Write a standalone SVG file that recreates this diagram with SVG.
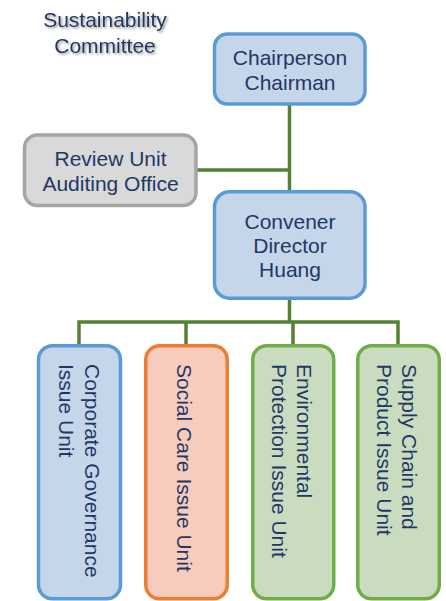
<svg xmlns="http://www.w3.org/2000/svg" width="446" height="601" viewBox="0 0 446 601">
  <defs>
    <filter id="soft-shadow" x="-10%" y="-20%" width="130%" height="150%">
      <feDropShadow dx="1.5" dy="1.5" stdDeviation="0.9" flood-color="#6f6f6f" flood-opacity="0.75"/>
    </filter>
    <style>
      text { font-family: "Liberation Sans", Arial, sans-serif; font-size: 21px; fill: #1f3864; }
      .c { text-anchor: middle; }
      .box { stroke-width: 3.5; }
      .blue { fill: #c5d5ea; stroke: #5b9bd5; }
      .gray { fill: #d9d9d9; stroke: #a5a5a5; }
      .orange { fill: #f7ccbd; stroke: #ed7d31; }
      .green { fill: #c9dcc0; stroke: #70ad47; }
      .link { fill: none; stroke: #548235; stroke-width: 3.5; }
    </style>
  </defs>

  <rect width="446" height="601" fill="#ffffff"/>

  <!-- title -->
  <g id="title" filter="url(#soft-shadow)">
    <text class="c" x="105" y="27">Sustainability</text>
    <text class="c" x="105" y="53">Committee</text>
  </g>

  <!-- connectors -->
  <g id="connectors">
    <path class="link" d="M289.5 104 V192"/>
    <path class="link" d="M196 170 H289.5"/>
    <path class="link" d="M289.5 298 V322"/>
    <path class="link" d="M79 344 V322 H398 V344"/>
    <path class="link" d="M186 322 V344"/>
    <path class="link" d="M293 322 V344"/>
  </g>

  <!-- upper nodes -->
  <g id="chairperson">
    <rect class="box blue" x="214.5" y="34" width="150.5" height="70" rx="13"/>
    <text class="c" x="290" y="65">Chairperson</text>
    <text class="c" x="290" y="89.5">Chairman</text>
  </g>

  <g id="review-unit">
    <rect class="box gray" x="24.5" y="135" width="171.5" height="70.5" rx="13"/>
    <text class="c" x="110.5" y="165.5">Review Unit</text>
    <text class="c" x="110.5" y="190.5">Auditing Office</text>
  </g>

  <g id="convener">
    <rect class="box blue" x="214.5" y="191.75" width="150.5" height="106.5" rx="15"/>
    <text class="c" x="290" y="228.5">Convener</text>
    <text class="c" x="290" y="253">Director</text>
    <text class="c" x="290" y="277">Huang</text>
  </g>

  <!-- issue units (vertical text) -->
  <g id="corporate-governance">
    <rect class="box blue" x="38.5" y="345.75" width="82" height="253" rx="14"/>
    <text transform="translate(85,364) rotate(90)">Corporate Governance</text>
    <text transform="translate(59,364) rotate(90)">Issue Unit</text>
  </g>

  <g id="social-care">
    <rect class="box orange" x="145.75" y="345.75" width="81.5" height="253" rx="14"/>
    <text transform="translate(177,364) rotate(90)">Social Care Issue Unit</text>
  </g>

  <g id="environmental-protection">
    <rect class="box green" x="252.75" y="345.75" width="81" height="253" rx="14"/>
    <text transform="translate(297,364) rotate(90)">Environmental</text>
    <text transform="translate(272,364) rotate(90)">Protection Issue Unit</text>
  </g>

  <g id="supply-chain">
    <rect class="box green" x="357.75" y="345.75" width="81.5" height="253" rx="14"/>
    <text transform="translate(402,364) rotate(90)">Supply Chain and</text>
    <text transform="translate(377,364) rotate(90)">Product Issue Unit</text>
  </g>
</svg>
